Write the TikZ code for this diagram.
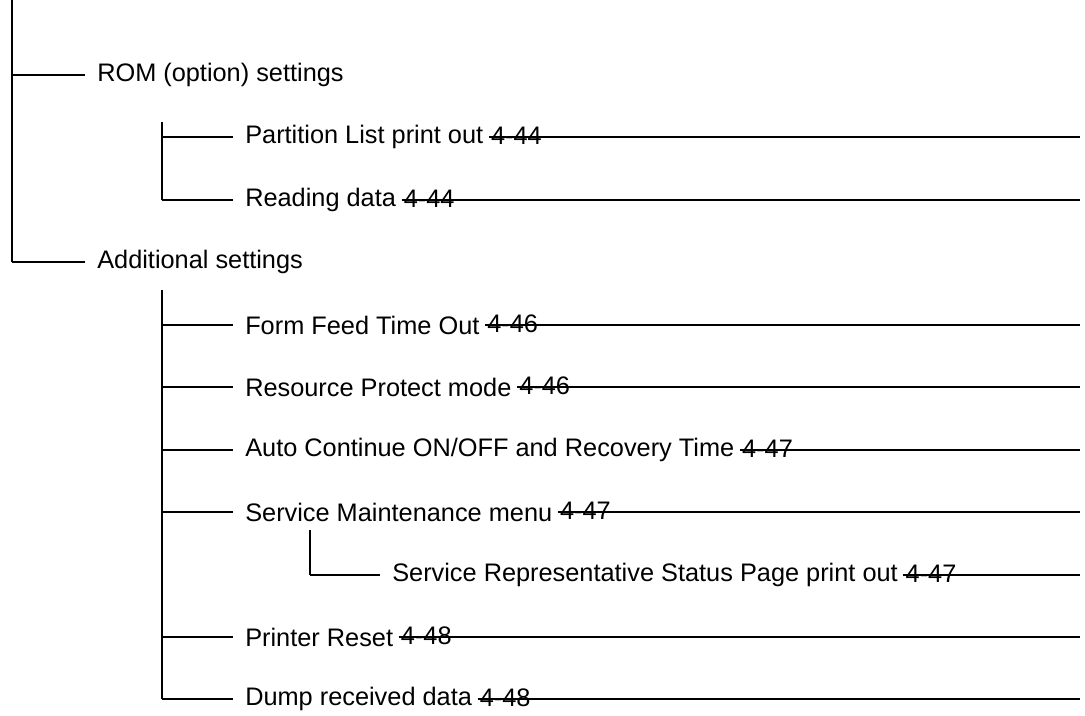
\documentclass[tikz,border=0pt]{standalone}
\usepackage{fontspec}
\setmainfont{Liberation Sans}
\begin{document}
\begin{tikzpicture}[x=0.75pt,y=-0.75pt,
  lbl/.style={anchor=west,inner sep=0pt,font=\fontsize{19}{22}\selectfont},
  num/.style={anchor=west,inner sep=0pt,font=\fontsize{19}{22}\selectfont},
  ln/.style={line width=1.1pt,black}]
\useasboundingbox (0,0) rectangle (1085,715);
% main trunk
\coordinate (t0) at (12,0);
\coordinate (t1) at (12,262);
\draw[ln] (t0) -- (t1);
\newcommand{\branch}[6]{% name, xline, xtextstart, y, text, number
  \coordinate (#1b) at (#2,#4);
  \coordinate (#1e) at (#3-12,#4);
  \draw[ln] (#1b) -- (#1e);
  \node[lbl] (#1) at (#3,#4) {#5};
  \coordinate (#1l) at ([xshift=4pt]#1.east);
  \coordinate (#1r) at (1080,#4);
  \draw[ln] (#1l) -- (#1r);
  \node[num] (#1n) at ([xshift=1.5pt,yshift=1pt]#1l) {#6};
}
\coordinate (romb) at (12,75);\coordinate (rome) at (85,75);
\draw[ln] (romb) -- (rome);
\node[lbl] (rom) at (97,75) {ROM (option) settings};
\coordinate (addb) at (12,262);\coordinate (adde) at (85,262);
\draw[ln] (addb) -- (adde);
\node[lbl] (add) at (97,262) {Additional settings};
% ROM sub
\coordinate (s1a) at (162,122);\coordinate (s1b) at (162,200);
\draw[ln] (s1a) -- (s1b);
\branch{pl}{162}{245}{137}{Partition List print out}{4-44}
\branch{rd}{162}{245}{200}{Reading data}{4-44}
% Additional sub
\coordinate (s2a) at (162,290);\coordinate (s2b) at (162,699);
\draw[ln] (s2a) -- (s2b);
\branch{ff}{162}{245}{325}{Form Feed Time Out}{4-46}
\branch{rp}{162}{245}{387}{Resource Protect mode}{4-46}
\branch{ac}{162}{245}{450}{Auto Continue ON/OFF and Recovery Time}{4-47}
\branch{sm}{162}{245}{512}{Service Maintenance menu}{4-47}
\coordinate (s3a) at (310,530);\coordinate (s3b) at (310,575);
\draw[ln] (s3a) -- (s3b);
\branch{sr}{310}{392}{575}{Service Representative Status Page print out}{4-47}
\branch{pr}{162}{245}{637}{Printer Reset}{4-48}
\branch{du}{162}{245}{699}{Dump received data}{4-48}
\end{tikzpicture}
\end{document}
